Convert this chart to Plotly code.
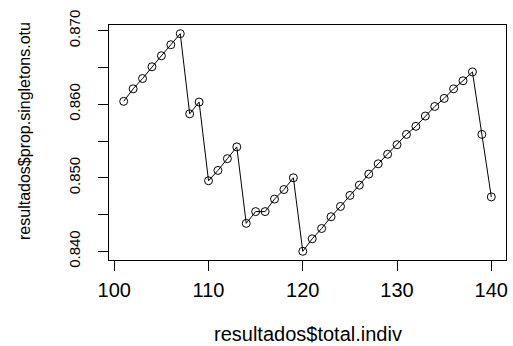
import plotly.graph_objects as go

total_indiv = list(range(101, 141))
prop_singletons_otu = [
    0.8604, 0.8621, 0.8635, 0.8651, 0.8666, 0.8681, 0.8696,
    0.8587, 0.8603,
    0.8496, 0.8510, 0.8526, 0.8542,
    0.8438, 0.8454, 0.8454, 0.8471, 0.8484, 0.8500,
    0.8400, 0.8417, 0.8431, 0.8447, 0.8461, 0.8476, 0.8490, 0.8505,
    0.8519, 0.8532, 0.8545, 0.8559, 0.8570, 0.8584, 0.8597, 0.8608,
    0.8621, 0.8632, 0.8644,
    0.8559, 0.8474,
]
x_ticks = [100, 110, 120, 130, 140]
y_ticks = [0.840, 0.850, 0.860, 0.870]
y_tick_labels = ["0.840", "0.850", "0.860", "0.870"]
x_title = "resultados$total.indiv"
y_title = "resultados$prop.singletons.otu"

def padded(vals, f=0.04):
    lo, hi = min(vals), max(vals)
    d = (hi - lo) * f
    return [lo - d, hi + d]

fig = go.Figure(go.Scatter(
    x=total_indiv, y=prop_singletons_otu, mode="lines+markers",
    line=dict(color="black", width=1),
    marker=dict(symbol="circle-open", size=8, color="black", line=dict(width=1)),
))

font = "Liberation Sans, Arial, sans-serif"
fig.update_layout(
    width=513, height=346,
    margin=dict(l=109, r=7, t=25, b=86, autoexpand=False),
    plot_bgcolor="white", paper_bgcolor="white",
    showlegend=False,
    font=dict(family=font, color="black"),
    annotations=[
        dict(text=x_title, xref="paper", yref="paper", x=0.5, y=-0.315,
             xanchor="center", yanchor="middle", showarrow=False, font=dict(size=20)),
        dict(text=y_title, xref="paper", yref="paper", x=-0.2116, y=0.549, textangle=-90,
             xanchor="center", yanchor="middle", showarrow=False, font=dict(size=16)),
    ],
)
fig.update_xaxes(
    range=padded(total_indiv), tickvals=x_ticks, ticktext=[str(v) for v in x_ticks],
    showgrid=False, zeroline=False, showline=True, mirror=True, automargin=False,
    linecolor="black", linewidth=1, ticks="outside", ticklen=10, tickcolor="black",
    tickfont=dict(size=20), ticklabelstandoff=2,
)
fig.update_yaxes(
    range=padded(prop_singletons_otu), tickvals=y_ticks, ticktext=y_tick_labels,
    tickangle=-90, automargin=False,
    showgrid=False, zeroline=False, showline=True, mirror=True,
    linecolor="black", linewidth=1, ticks="outside", ticklen=10, tickcolor="black",
    tickfont=dict(size=15), ticklabelstandoff=12,
    minor=dict(dtick=0.005, tick0=0.84, ticks="outside", ticklen=10, tickcolor="black", showgrid=False),
)
fig.write_html("out.html", config={"displayModeBar": False},
               post_script="document.body.style.margin='0px';")
